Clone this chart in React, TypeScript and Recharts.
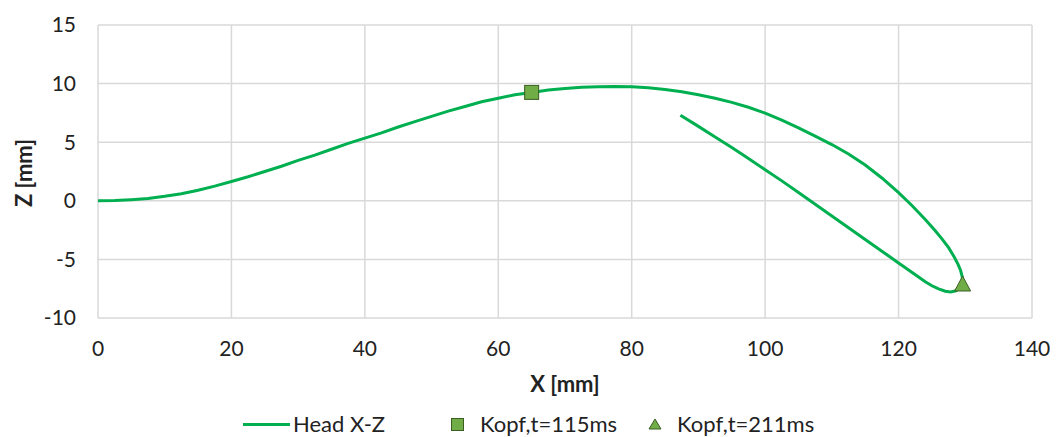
import { ScatterChart, Scatter, XAxis, YAxis, CartesianGrid, Legend } from 'recharts';

// head trajectory, in drawing order (out along the top, back along the bottom)
const headX = [
  0, 2.5, 5, 7.5, 10, 12.5, 15, 17.5, 20, 22.5, 25, 27.5, 30, 32.5, 35, 37.5, 40, 42.5, 45, 47.5,
  50, 52.5, 55, 57.5, 60, 62.5, 65, 67.5, 70, 72.5, 75, 77.5, 80, 82.5, 85, 87.5, 90, 92.5, 95,
  97.5, 100, 102.5, 105, 107.5, 110, 112.5, 115, 117.5, 120, 122, 124, 125.5, 126.5, 127.5, 128.3,
  128.9, 129.3, 129.55, 129.6,
  129.2, 128.6, 127.8, 127, 126, 125, 124, 123, 121.5, 120, 117.5, 115, 112.5, 110, 107.5, 105,
  102.5, 100, 97.5, 95, 92.5, 90, 87.3,
];
const headZ = [
  0, 0.02, 0.1, 0.2, 0.38, 0.6, 0.9, 1.25, 1.65, 2.05, 2.5, 2.95, 3.45, 3.9, 4.4, 4.9, 5.35, 5.8,
  6.3, 6.75, 7.2, 7.65, 8.05, 8.45, 8.75, 9.05, 9.25, 9.45, 9.58, 9.68, 9.74, 9.76, 9.73, 9.65,
  9.5, 9.3, 9.05, 8.75, 8.4, 7.98, 7.48, 6.88, 6.22, 5.52, 4.8, 4.0, 3.05, 1.95, 0.7, -0.4, -1.6,
  -2.55, -3.25, -4.0, -4.75, -5.4, -5.95, -6.5, -7.1,
  -7.45, -7.68, -7.78, -7.72, -7.52, -7.25, -6.9, -6.5, -5.9, -5.3, -4.3, -3.3, -2.3, -1.3, -0.3,
  0.7, 1.7, 2.65, 3.6, 4.55, 5.45, 6.35, 7.3,
];

const kopf115 = [{ x: 65, z: 9.25 }];
const kopf211 = [{ x: 129.6, z: -7.1 }];

const xTicks = [0, 20, 40, 60, 80, 100, 120, 140];
const yTicks = [-10, -5, 0, 5, 10, 15];

const headData = headX.map((x, i) => ({ x, z: headZ[i] }));

const LINE = '#00b050';
const MARK = '#70ad47';
const EDGE = '#3b5e22';
const FONT = 'Lato, "Open Sans", sans-serif';

const NoDot = () => <g />;

const SquareDot = (p: any) => (
  <rect x={p.cx - 7} y={p.cy - 7} width={14} height={14} fill={MARK} stroke={EDGE} strokeWidth={1} />
);

const TriDot = (p: any) => (
  <path
    d={`M${p.cx},${p.cy - 8} L${p.cx + 8},${p.cy + 7} L${p.cx - 8},${p.cy + 7} Z`}
    fill={MARK}
    stroke={EDGE}
    strokeWidth={1}
  />
);

const YLabel = () => (
  <text
    x={15}
    y={165}
    transform="rotate(-90 15 165)"
    textAnchor="middle"
    dominantBaseline="central"
    fontFamily={FONT}
    fontWeight="bold"
    fontSize={22}
    fill="#222"
  >
    Z [mm]
  </text>
);

const LegendBox = () => (
  <div
    style={{
      display: 'flex',
      alignItems: 'center',
      height: 26,
      lineHeight: '26px',
      fontFamily: FONT,
      fontSize: 22,
      color: '#222',
      paddingLeft: 235,
    }}
  >
    <span style={{ display: 'inline-block', width: 47, height: 3, background: LINE, marginRight: 3 }} />
    <span style={{ marginRight: 66 }}>Head X-Z</span>
    <span
      style={{
        display: 'inline-block',
        width: 11,
        height: 11,
        background: MARK,
        border: `1px solid ${EDGE}`,
        marginRight: 16,
      }}
    />
    <span style={{ marginRight: 31 }}>Kopf,t=115ms</span>
    <svg width={14} height={12} style={{ marginRight: 15 }}>
      <path d="M7,1 L13,11 L1,11 Z" fill={MARK} stroke={EDGE} strokeWidth={1} />
    </svg>
    <span>Kopf,t=211ms</span>
  </div>
);

export default function App() {
  return (
    <ScatterChart width={1042} height={429} margin={{ top: 17, right: 18, bottom: 0, left: 0 }}>
      <CartesianGrid stroke="#d9d9d9" strokeWidth={1.5} />
      <XAxis
        type="number"
        dataKey="x"
        domain={[0, 140]}
        ticks={xTicks}
        axisLine={false}
        tickLine={false}
        tickSize={0}
        tickMargin={23}
        height={93}
        tick={{ fontFamily: FONT, fontSize: 21, fill: '#222' }}
        label={{
          value: 'X [mm]',
          position: 'insideBottom',
          offset: 19,
          style: { fontFamily: FONT, fontSize: 22, fontWeight: 'bold', fill: '#222' },
        }}
      />
      <YAxis
        type="number"
        dataKey="z"
        domain={[-10, 15]}
        ticks={yTicks}
        axisLine={false}
        tickLine={false}
        tickSize={0}
        tickMargin={22}
        width={90}
        tick={{ fontFamily: FONT, fontSize: 21, fill: '#222' }}
        label={<YLabel />}
      />
      <Legend verticalAlign="bottom" height={26} content={<LegendBox />} />
      <Scatter
        name="Head X-Z"
        data={headData}
        line={{ stroke: LINE, strokeWidth: 3 }}
        lineType="joint"
        shape={<NoDot />}
        isAnimationActive={false}
      />
      <Scatter name="Kopf,t=115ms" data={kopf115} shape={<SquareDot />} isAnimationActive={false} />
      <Scatter name="Kopf,t=211ms" data={kopf211} shape={<TriDot />} isAnimationActive={false} />
    </ScatterChart>
  );
}
